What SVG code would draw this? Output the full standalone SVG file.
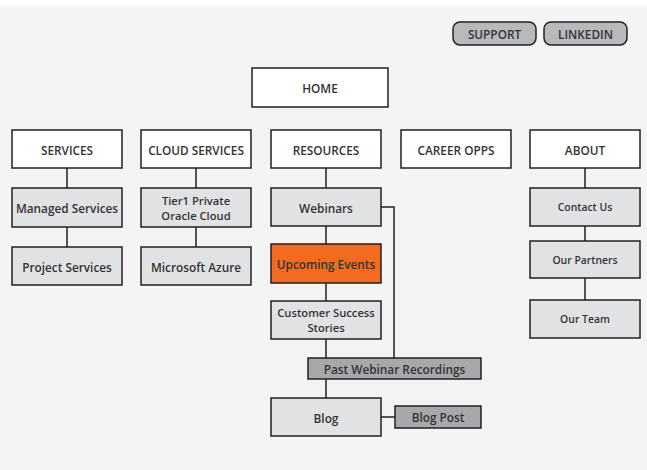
<svg xmlns="http://www.w3.org/2000/svg" width="647" height="470" viewBox="0 0 647 470">
<style>
text{font-family:"Open Sans","Liberation Sans",sans-serif;font-weight:600;fill:#333;text-anchor:middle;dominant-baseline:central;font-size:11.8px}
.w{fill:#fff;stroke:#231f20;stroke-width:1.5}
.g{fill:#e1e2e4;stroke:#231f20;stroke-width:1.5}
.d{fill:#a7a8ac;stroke:#231f20;stroke-width:1.5}
.o{fill:#f26b21;stroke:#231f20;stroke-width:1.5}
.b{fill:#b8b9bd;stroke:#231f20;stroke-width:1.5}
.s{font-size:10.4px}
.m{font-size:11.2px}
.c{fill:none;stroke:#231f20;stroke-width:1.5}
</style>
<rect x="0" y="0" width="647" height="470" fill="#fff"/>
<rect x="0" y="6" width="647" height="464" fill="#f4f4f4"/>
<g id="connectors">
<path class="c" d="M67 168V188M67 227V247M196 168V188M196 227V247M326 168V188M326 226V244M326 283V301M326 339V358M326 379V398M381 417H395M381 207H394V358M585 168V188M585 226V241M585 278V300"/>
</g>
<g id="support"><rect class="b" x="453" y="22" width="83" height="23" rx="7"/><text x="494.5" y="34">SUPPORT</text></g>
<g id="linkedin"><rect class="b" x="544" y="22" width="83" height="23" rx="7"/><text x="585.5" y="34">LINKEDIN</text></g>
<g id="home"><rect class="w" x="252" y="68" width="136" height="39"/><text x="320" y="88">HOME</text></g>
<g id="services"><rect class="w" x="12" y="130" width="110" height="38"/><text x="67" y="149.5">SERVICES</text></g>
<g id="cloud"><rect class="w" x="141" y="130" width="110" height="38"/><text x="196" y="149.5">CLOUD SERVICES</text></g>
<g id="resources"><rect class="w" x="271" y="130" width="110" height="38"/><text x="326" y="149.5">RESOURCES</text></g>
<g id="career"><rect class="w" x="401" y="130" width="110" height="38"/><text x="456" y="149.5">CAREER OPPS</text></g>
<g id="about"><rect class="w" x="530" y="130" width="110" height="38"/><text x="585" y="149.5">ABOUT</text></g>
<g id="managed"><rect class="g" x="12" y="188" width="110" height="39"/><text x="67" y="208">Managed Services</text></g>
<g id="project"><rect class="g" x="12" y="247" width="110" height="38"/><text x="67" y="266.5">Project Services</text></g>
<g id="tier1"><rect class="g" x="141" y="188" width="110" height="39"/><text class="m" x="196" y="200">Tier1 Private</text><text class="m" x="196" y="215.3">Oracle Cloud</text></g>
<g id="azure"><rect class="g" x="141" y="247" width="110" height="38"/><text x="196" y="266.5">Microsoft Azure</text></g>
<g id="webinars"><rect class="g" x="271" y="188" width="110" height="38"/><text x="326" y="207.5">Webinars</text></g>
<g id="upcoming"><rect class="o" x="271" y="244" width="110" height="39"/><text x="326" y="264">Upcoming Events</text></g>
<g id="customer"><rect class="g" x="271" y="301" width="110" height="38"/><text class="m" x="326" y="312.5">Customer Success</text><text class="m" x="326" y="327.8">Stories</text></g>
<g id="past"><rect class="d" x="308" y="358" width="173" height="21"/><text x="394.5" y="369">Past Webinar Recordings</text></g>
<g id="blog"><rect class="g" x="271" y="398" width="110" height="38"/><text x="326" y="417.5">Blog</text></g>
<g id="blogpost"><rect class="d" x="395" y="406" width="86" height="22"/><text x="438" y="417">Blog Post</text></g>
<g id="contact"><rect class="g" x="530" y="188" width="110" height="38"/><text class="s" x="585" y="207">Contact Us</text></g>
<g id="partners"><rect class="g" x="530" y="241" width="110" height="37"/><text class="s" x="585" y="259.5">Our Partners</text></g>
<g id="team"><rect class="g" x="530" y="300" width="110" height="38"/><text class="s" x="585" y="319">Our Team</text></g>
</svg>
